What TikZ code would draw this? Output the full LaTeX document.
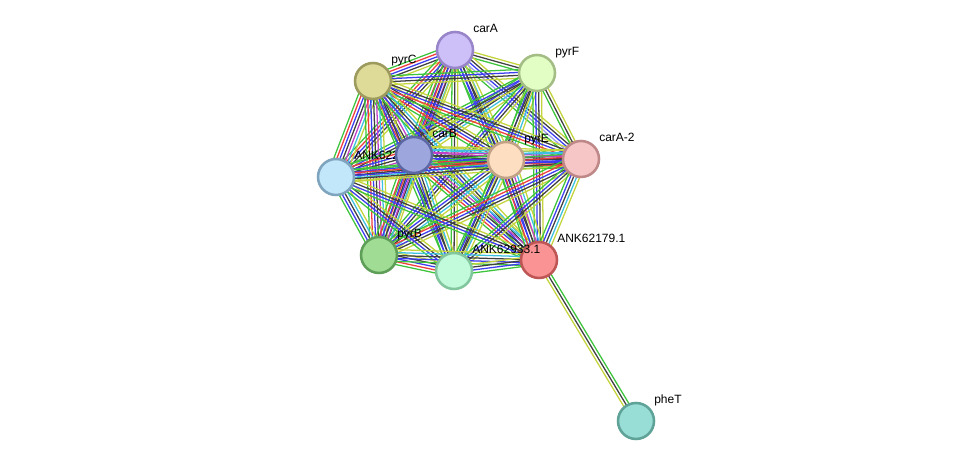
\documentclass[tikz,border=0pt]{standalone}
\usepackage{fontspec}
\setmainfont{Liberation Sans}
\usetikzlibrary{calc, backgrounds}
\usepackage{xcolor}

% evidence channels
\definecolor{sGreen}{HTML}{3CC43C}
\definecolor{sRed}{HTML}{F03C3C}
\definecolor{sBlue}{HTML}{3C3CF0}
\definecolor{sDark}{HTML}{404040}
\definecolor{sMag}{HTML}{C040C8}
\definecolor{sCyan}{HTML}{3CC0E0}
\definecolor{sYel}{HTML}{C4D43C}
\definecolor{sLav}{HTML}{A0A0F0}

% protein colours (fill / rim)
\definecolor{fCarA}{HTML}{CDBFF8}     \definecolor{dCarA}{HTML}{9885C9}
\definecolor{fPyrF}{HTML}{E2FEC4}     \definecolor{dPyrF}{HTML}{A3BD84}
\definecolor{fPyrC}{HTML}{DEDB98}     \definecolor{dPyrC}{HTML}{9C9A5C}
\definecolor{fCarB}{HTML}{9EA6DE}     \definecolor{dCarB}{HTML}{5C68A6}
\definecolor{fPyrE}{HTML}{FEDEC0}     \definecolor{dPyrE}{HTML}{C2A286}
\definecolor{fCarAii}{HTML}{F6C6C6}   \definecolor{dCarAii}{HTML}{BE8888}
\definecolor{fAnkA}{HTML}{C2E6FA}     \definecolor{dAnkA}{HTML}{7EA4BE}
\definecolor{fPyrB}{HTML}{A0DC94}     \definecolor{dPyrB}{HTML}{5E9E58}
\definecolor{fAnkB}{HTML}{C2FADC}     \definecolor{dAnkB}{HTML}{82C69E}
\definecolor{fAnkC}{HTML}{FA9494}     \definecolor{dAnkC}{HTML}{BE5656}
\definecolor{fPheT}{HTML}{98DED6}     \definecolor{dPheT}{HTML}{5EA298}

\tikzset{
  prot/.style={circle, minimum size=27pt, inner sep=0pt, line width=1.9pt},
  plabel/.style={anchor=base west, inner sep=0pt, font=\fontsize{9}{10}\selectfont},
  strline/.style={line width=0.95pt},
}

% line sets per link
\def\setfull{sGreen,sRed,sBlue,sDark,sMag,sCyan,sYel}
\def\setrich{sGreen,sBlue,sDark,sCyan,sYel}
\def\setred{sGreen,sRed,sBlue,sDark,sYel}
\def\setmid{sGreen,sBlue,sDark,sYel}
\def\sethom{sGreen,sLav,sBlue,sDark,sYel}
\def\setbase{sGreen,sDark,sYel}

\newcommand{\protein}[6]{%
  \node[prot, fill=f#4, draw=d#4] (#1) at (#2,#3) {};
  \node[plabel] (#1-lab) at ($(#1)+(18,-17)$) {#5#6};
}

\newcommand{\strlink}[3]{%
  \expandafter\let\expandafter\linkset\csname set#3\endcsname
  \gdef\nlines{0}%
  \foreach \c in \linkset {\xdef\nlines{\the\numexpr\nlines+1\relax}}%
  \foreach \c [count=\k] in \linkset {%
    \pgfmathsetmacro\off{(\k-(\nlines+1)/2)*2.2}%
    \draw[strline, \c] ($(#1)!\off pt!90:(#2)$) -- ($(#2)!\off pt!-90:(#1)$);
  }%
}

\begin{document}
\begin{tikzpicture}[x=0.75pt, y=-0.75pt]
  \useasboundingbox (0,0) rectangle (976,466);

  % proteins, in drawing order
  \protein{pheT}{636}{421}{PheT}{pheT}{}
  \protein{pyrC}{373}{81}{PyrC}{pyrC}{}
  \protein{carA}{455}{50}{CarA}{carA}{}
  \protein{pyrF}{537}{73}{PyrF}{pyrF}{}
  \protein{carAii}{581}{159}{CarAii}{carA-2}{}
  \protein{pyrE}{506}{160}{PyrE}{pyrE}{}
  \protein{ank622}{336}{177}{AnkA}{ANK622}{}
  \protein{carB}{414}{155}{CarB}{carB}{}
  \protein{pyrB}{379}{255}{PyrB}{pyrB}{}
  \protein{ank62179}{539}{260}{AnkC}{ANK62179.1}{}
  \protein{ank62933}{454}{271}{AnkB}{ANK62933.1}{}

  \begin{scope}[on background layer]
    \fill[white] (0,0) rectangle (976,466);
    \foreach \a/\b/\s in {
      carA/pyrF/base, carA/pyrC/red, carA/carB/full, carA/pyrE/rich,
      carA/carAii/hom, carA/ank622/red, carA/pyrB/red, carA/ank62933/base,
      carA/ank62179/mid,
      pyrF/pyrC/mid, pyrF/carB/rich, pyrF/pyrE/rich, pyrF/carAii/base,
      pyrF/ank622/mid, pyrF/pyrB/mid, pyrF/ank62933/base, pyrF/ank62179/mid,
      pyrC/carB/full, pyrC/pyrE/red, pyrC/carAii/red, pyrC/ank622/full,
      pyrC/pyrB/full, pyrC/ank62933/mid, pyrC/ank62179/rich,
      carB/pyrE/full, carB/carAii/full, carB/ank622/full, carB/pyrB/full,
      carB/ank62933/rich, carB/ank62179/full,
      pyrE/carAii/full, pyrE/ank622/rich, pyrE/pyrB/rich, pyrE/ank62933/rich,
      pyrE/ank62179/full,
      carAii/ank622/red, carAii/pyrB/red, carAii/ank62933/mid,
      carAii/ank62179/rich,
      ank622/pyrB/rich, ank622/ank62933/mid, ank622/ank62179/mid,
      pyrB/ank62933/red, pyrB/ank62179/rich, ank62933/ank62179/mid,
      pheT/ank62179/base}
      {\strlink{\a}{\b}{\s}}
  \end{scope}
\end{tikzpicture}
\end{document}
